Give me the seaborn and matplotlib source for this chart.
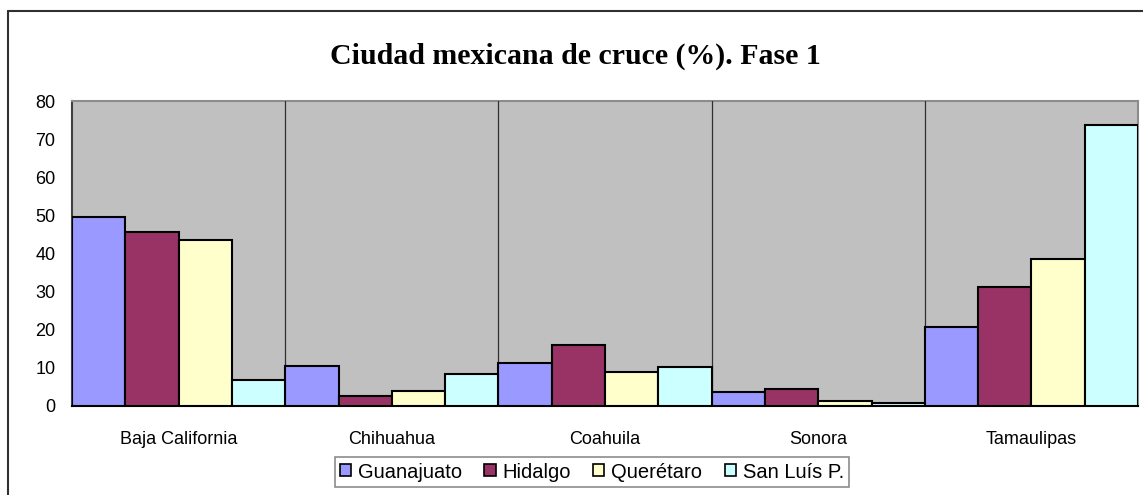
import numpy as np
import pandas as pd
import matplotlib
matplotlib.use('Agg')
import matplotlib.pyplot as plt
import seaborn as sns
from matplotlib.patches import Rectangle
from matplotlib.lines import Line2D

# data
states = ['Baja California', 'Chihuahua', 'Coahuila', 'Sonora', 'Tamaulipas']
origins = ['Guanajuato', 'Hidalgo', 'Querétaro', 'San Luís P.']
guanajuato = [49.6, 10.4, 11.2, 3.6, 20.6]
hidalgo = [45.7, 2.5, 16.1, 4.4, 31.2]
queretaro = [43.5, 4.0, 8.9, 1.4, 38.6]
san_luis = [6.7, 8.5, 10.1, 0.7, 73.7]
colors = ['#9999FF', '#993366', '#FFFFCC', '#CCFFFF']

data = pd.DataFrame({'Estado': states * 4,
                     'Origen': np.repeat(origins, len(states)),
                     'Pct': guanajuato + hidalgo + queretaro + san_luis})

sns.set_style('white')
plt.rcParams['font.family'] = ['Liberation Sans', 'DejaVu Sans']
plt.rcParams['text.color'] = 'black'
plt.rcParams['xtick.color'] = 'black'
plt.rcParams['ytick.color'] = 'black'

fig = plt.figure(figsize=(11.43, 4.95), dpi=100)
ax = fig.add_axes([72/1143, 89/495, (1138-72)/1143, (406-101)/495])
ax.set_facecolor('#C0C0C0')

sns.barplot(data=data, x='Estado', y='Pct', hue='Origen', palette=colors,
            width=1.0, edgecolor='black', linewidth=1.5, saturation=1,
            ax=ax, legend=False)

ax.set_xlim(-0.5, 4.5)
ax.set_ylim(0, 80)
ax.set_yticks(range(0, 81, 10))
ax.set_xlabel('')
ax.set_ylabel('')

# category boundaries: gridlines and ticks
ax.set_xticks(np.arange(0.5, 4.5, 1), minor=True)
ax.tick_params(axis='x', which='major', length=0, labelsize=13, pad=18, labelcolor='black')
ax.tick_params(axis='x', which='minor', length=6, width=1, color='black', direction='out')
ax.tick_params(axis='y', length=5, width=1, color='black', direction='out', labelsize=13,
               pad=7, labelcolor='black')
ax.grid(False)
ax.grid(True, axis='x', which='minor', color='#303030', linewidth=0.9)
ax.set_axisbelow(False)
for b in ax.patches:
    b.set_zorder(3)

for s in ['top', 'right']:
    ax.spines[s].set_color('#8C8C8C')
    ax.spines[s].set_linewidth(1.5)
ax.spines['left'].set_color('#404040')
ax.spines['left'].set_linewidth(1.5)
ax.spines['bottom'].set_color('black')
ax.spines['bottom'].set_linewidth(1.5)

fig.text(575/1143, 1 - 56/495, 'Ciudad mexicana de cruce (%). Fase 1',
         family='Liberation Serif', fontweight='bold', fontsize=21.5, color='black',
         ha='center', va='center')

handles = [Rectangle((0, 0), 1, 1, facecolor=c, edgecolor='black', linewidth=1.2)
           for c in colors]
leg = fig.legend(handles, origins, loc='center', bbox_to_anchor=(592/1143, 1 - 472/495),
                 ncol=4, fontsize=14.5, frameon=True, fancybox=False,
                 handlelength=0.55, handleheight=0.55, handletextpad=0.35,
                 columnspacing=1.1, borderpad=0.25, borderaxespad=0)
leg.get_frame().set_edgecolor('#707070')
leg.get_frame().set_linewidth(1.2)

# outer chart frame
fig.add_artist(Line2D([8/1143, 8/1143], [0, 1 - 11/495], color='#303030', linewidth=1.5,
                      transform=fig.transFigure))
fig.add_artist(Line2D([8/1143, 1], [1 - 11/495, 1 - 11/495], color='#303030', linewidth=1.5,
                      transform=fig.transFigure))

fig.savefig('out.png', dpi=100)
